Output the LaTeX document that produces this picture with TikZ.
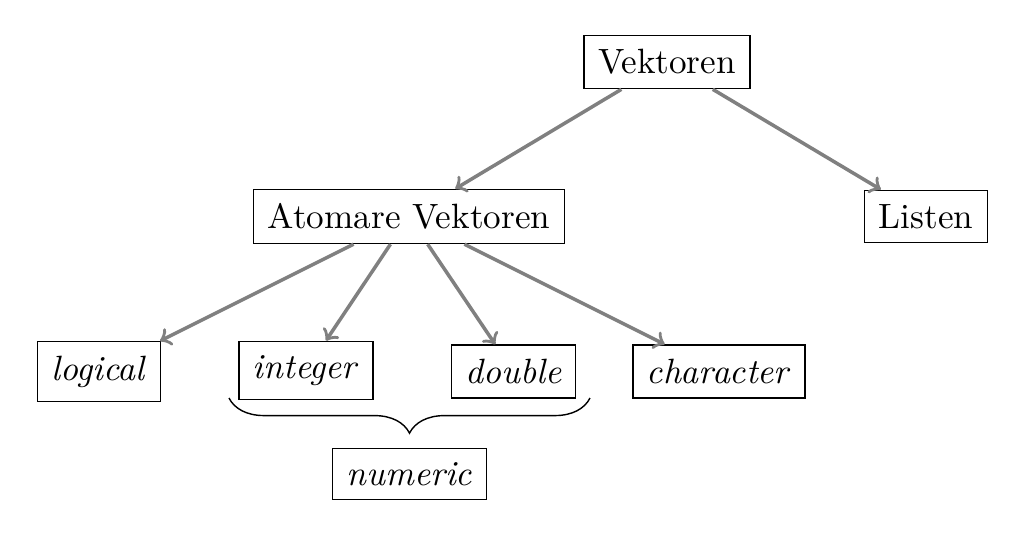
\documentclass[tikz,border=0pt]{standalone}
\usepackage{amsmath}
\usepackage{tikz}
\usetikzlibrary{decorations.pathreplacing}

\begin{document}
\begin{tikzpicture}[
    kasten/.style={draw, inner sep=4pt},
    pfeil/.style={->, thick, gray, line width=1pt}
]
    \useasboundingbox (0, 0) rectangle (10.24, -5.36);

    % obere Ebene
    \node[kasten] (vek) at (6.67, -0.62) {Vektoren};
    \node[kasten] (atom) at (4.09, -2.165) {Atomare Vektoren};
    \node[kasten] (listen) at (9.26, -2.165) {Listen};

    % Datentypen
    \node[kasten] (logical) at (0.99, -3.715) {\textit{logical}};
    \node[kasten] (integer) at (3.06, -3.705) {\textit{integer}};
    \node[kasten] (double) at (5.135, -3.715) {\textit{double}};
    \node[kasten] (character) at (7.19, -3.715) {\textit{character}};
    \node[kasten] (numeric) at (4.095, -4.74) {\textit{numeric}};

    \draw[pfeil] (vek) -- (atom);
    \draw[pfeil] (vek) -- (listen);
    \foreach \z in {logical, integer, double, character} {
        \draw[pfeil] (atom) -- (\z);
    }

    % Klammer unter integer und double
    \coordinate (kR) at (5.90, -3.98);
    \coordinate (kL) at (2.29, -3.98);
    \draw[decorate, decoration={brace, amplitude=10pt}] (kR) -- (kL);
\end{tikzpicture}
\end{document}
